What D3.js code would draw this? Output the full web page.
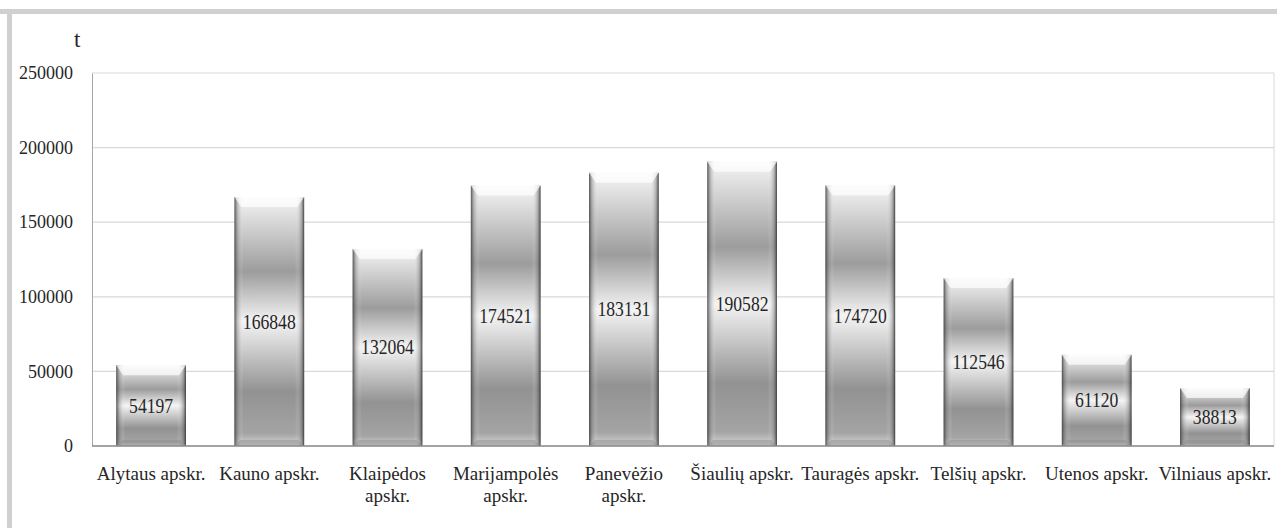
<!DOCTYPE html>
<html>
<head>
<meta charset="utf-8">
<script src="https://cdn.jsdelivr.net/npm/d3@7"></script>
<style>
  body { margin: 0; background: #fff; }
  svg text { font-family: "Liberation Serif", "Times New Roman", serif; fill: #262626; }
</style>
</head>
<body>
<svg width="1277" height="528"></svg>
<script>
// duomenys
const categories = [
  "Alytaus apskr.", "Kauno apskr.", "Klaipėdos\napskr.", "Marijampolės\napskr.",
  "Panevėžio\napskr.", "Šiaulių apskr.", "Tauragės apskr.", "Telšių apskr.",
  "Utenos apskr.", "Vilniaus apskr."
];
const values = [54197, 166848, 132064, 174521, 183131, 190582, 174720, 112546, 61120, 38813];
const yTicks = [0, 50000, 100000, 150000, 200000, 250000];
const unitLabel = "t";

var svg = d3.select("svg");

// rėmelis
svg.append("rect").attr("x", 0).attr("y", 9).attr("width", 1277).attr("height", 5).attr("fill", "#d0d0d0");
svg.append("rect").attr("x", 7).attr("y", 9).attr("width", 5).attr("height", 519).attr("fill", "#d0d0d0");

const plotLeft = 92, plotRight = 1274, plotTop = 73, plotBottom = 446;

var x = d3.scaleBand().domain(categories).range([plotLeft, plotRight]).paddingInner(0.41).paddingOuter(0.205);
var y = d3.scaleLinear().domain([0, 250000]).range([plotBottom, plotTop]);

const defs = svg.append("defs");
const vg = defs.append("linearGradient").attr("id", "barV").attr("x1", 0).attr("x2", 0).attr("y1", 0).attr("y2", 1);
[[0, "#f6f6f6"], [0.05, "#e6e6e6"], [0.3, "#9c9c9c"], [0.5, "#f4f4f4"], [0.78, "#929292"], [0.95, "#a4a4a4"], [1, "#d6d6d6"]]
  .forEach((s) => vg.append("stop").attr("offset", s[0]).attr("stop-color", s[1]));
const hg = defs.append("linearGradient").attr("id", "barH").attr("x1", 0).attr("x2", 1).attr("y1", 0).attr("y2", 0);
[[0, "#404040", 0.9], [0.04, "#707070", 0.45], [0.13, "#ffffff", 0], [0.87, "#ffffff", 0], [0.96, "#707070", 0.45], [1, "#303030", 0.9]]
  .forEach((s) => hg.append("stop").attr("offset", s[0]).attr("stop-color", s[1]).attr("stop-opacity", s[2]));

// tinklelis
svg.append("g")
  .selectAll("line")
  .data(yTicks)
  .enter()
  .append("line")
  .attr("x1", plotLeft).attr("x2", plotRight)
  .attr("y1", (d) => y(d)).attr("y2", (d) => y(d))
  .attr("stroke", "#d9d9d9").attr("stroke-width", 1.2);

svg.append("line").attr("x1", plotRight).attr("x2", plotRight).attr("y1", plotTop).attr("y2", plotBottom).attr("stroke", "#d9d9d9");

// y ašis
const yAxis = svg.append("g")
  .attr("transform", "translate(" + plotLeft + ",0)")
  .call(d3.axisLeft(y).tickValues(yTicks).tickSize(0).tickPadding(19).tickFormat((d) => d));
yAxis.select(".domain").attr("stroke", "#a6a6a6");
yAxis.selectAll("text").style("font-size", "18px").style("font-family", "Liberation Serif").attr("fill", "#262626");

svg.append("text").attr("x", 74).attr("y", 47).style("font-size", "23px").text(unitLabel);

// stulpeliai
const bars = svg.append("g")
  .selectAll("g")
  .data(values)
  .enter()
  .append("g");

bars.append("rect")
  .attr("x", (d, i) => x(categories[i]))
  .attr("y", (d) => y(d))
  .attr("width", x.bandwidth())
  .attr("height", (d) => y(0) - y(d))
  .attr("fill", "url(#barV)");

bars.append("rect")
  .attr("x", (d, i) => x(categories[i]))
  .attr("y", (d) => y(d))
  .attr("width", x.bandwidth())
  .attr("height", (d) => y(0) - y(d))
  .attr("fill", "url(#barH)");

// viršutinis nuožulnumas
bars.append("polygon")
  .attr("points", function (d, i) {
    const x0 = x(categories[i]), x1 = x0 + x.bandwidth(), y0 = y(d);
    return [[x0, y0], [x1, y0], [x1 - 7, y0 + 10], [x0 + 7, y0 + 10]].join(" ");
  })
  .attr("fill", "#ffffff").attr("opacity", 0.7);

// apatinis nuožulnumas
bars.append("polygon")
  .attr("points", function (d, i) {
    const x0 = x(categories[i]), x1 = x0 + x.bandwidth(), y0 = y(0);
    return [[x0, y0], [x1, y0], [x1 - 6, y0 - 6], [x0 + 6, y0 - 6]].join(" ");
  })
  .attr("fill", "#8a8a8a").attr("opacity", 0.45);

bars.append("text")
  .attr("transform", (d, i) => "translate(" + (x(categories[i]) + x.bandwidth() / 2) + "," + ((y(d) + y(0)) / 2 + 7) + ") scale(0.84,1)")
  .attr("text-anchor", "middle")
  .style("font-size", "21px")
  .text((d) => d);

// x ašis
svg.append("line").attr("x1", plotLeft).attr("x2", plotRight).attr("y1", plotBottom).attr("y2", plotBottom).attr("stroke", "#8c8c8c").attr("stroke-width", 1.5);

const xLabels = svg.append("g")
  .selectAll("text")
  .data(categories)
  .enter()
  .append("text")
  .attr("x", (d) => x(d) + x.bandwidth() / 2)
  .attr("y", 480)
  .attr("text-anchor", "middle")
  .style("font-size", "19px");

xLabels.each(function (d) {
  const t = d3.select(this);
  d.split("\n").forEach((line, k) => {
    t.append("tspan").attr("x", x(d) + x.bandwidth() / 2).attr("dy", k === 0 ? 0 : 22).text(line);
  });
});
</script>
</body>
</html>
